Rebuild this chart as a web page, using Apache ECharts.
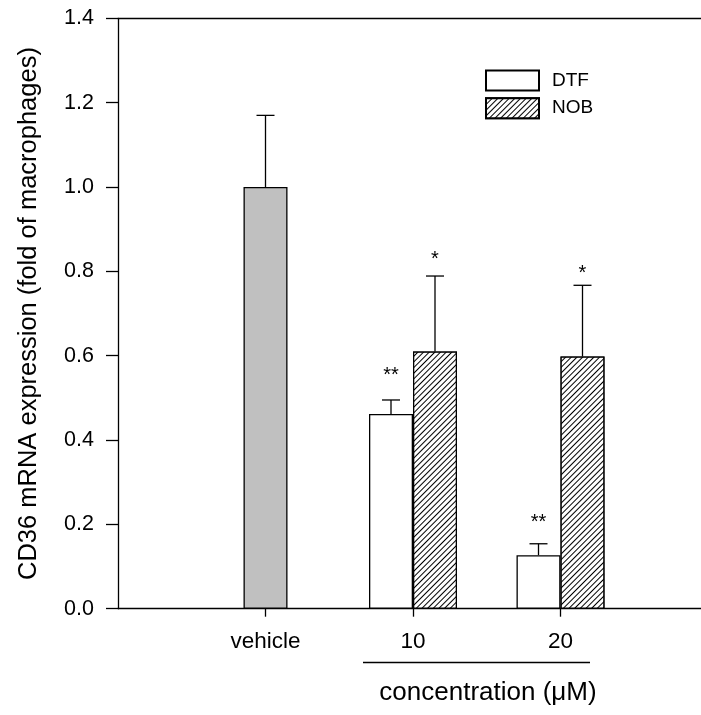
<!DOCTYPE html>
<html>
<head>
<meta charset="utf-8">
<script src="https://cdn.jsdelivr.net/npm/echarts@6/dist/echarts.min.js"></script>
<style>
  html, body { margin: 0; padding: 0; background: #fff; }
  #chart { width: 701px; height: 715px; }
</style>
</head>
<body>
<div id="chart"></div>
<script>
// Groups along the x axis (empty slots pad both ends of the axis)
const categories = ['', 'vehicle', '10', '20', ''];

// Means and upper error (SEM) per group; null where a group has no bar
const vehicleMean = [null, 1.00, null, null, null];
const vehicleErr  = [null, 0.17, null, null, null];
const dtfMean     = [null, null, 0.462, 0.127, null];
const dtfErr      = [null, null, 0.033, 0.027, null];
const nobMean     = [null, null, 0.610, 0.598, null];
const nobErr      = [null, null, 0.179, 0.169, null];

// Significance marks and the height they sit at
const dtfSig   = ['', '', '**', '**', ''];
const dtfSigAt = [null, null, 0.562, 0.214, null];
const nobSig   = ['', '', '*', '*', ''];
const nobSigAt = [null, null, 0.838, 0.804, null];

// Y axis ticks
const yTicks = { min: 0, max: 1.4, step: 0.2 };

const FONT = "'Liberation Sans', Arial, sans-serif";
const BAR_W = 44;
const LINE_W = 1.3;

const chart = echarts.init(document.getElementById('chart'), null, { renderer: 'canvas' });

// Error bar + significance rows: [categoryIndex, mean, err, side(-1 left, 0 centre, 1 right), sigText, sigAt]
const errRows = [];
function collect(mean, err, side, sig, sigAt) {
  mean.forEach((m, i) => {
    if (m == null) return;
    errRows.push([i, m, err[i], side, sig ? sig[i] : '', sigAt ? sigAt[i] : null]);
  });
}
collect(vehicleMean, vehicleErr, 0, null, null);
collect(dtfMean, dtfErr, -1, dtfSig, dtfSigAt);
collect(nobMean, nobErr, 1, nobSig, nobSigAt);

const hatch = {
  symbol: 'rect',
  symbolSize: 1,
  dashArrayX: [1, 0],
  dashArrayY: [1, 2.6],
  rotation: -Math.PI / 4,
  color: '#000',
  backgroundColor: '#fff'
};

const xAxisBase = {
  type: 'category',
  data: categories,
  boundaryGap: false,
  axisLine: { lineStyle: { color: '#000', width: LINE_W } },
  splitLine: { show: false }
};

const option = {
  animation: false,
  backgroundColor: '#fff',
  textStyle: { fontFamily: FONT, color: '#000' },
  // the plot frame runs past the right edge of the canvas
  grid: { left: 118, top: 18.4, width: 590, height: 590.3, containLabel: false, outerBoundsMode: 'none' },
  legend: {
    orient: 'vertical',
    left: 485,
    top: 69.5,
    padding: 0,
    icon: 'rect',
    itemWidth: 53,
    itemHeight: 20,
    itemGap: 5.7,
    data: ['DTF', 'NOB'],
    textStyle: { fontFamily: FONT, fontSize: 19, color: '#000', padding: [0, 0, 0, 8] }
  },
  xAxis: [
    Object.assign({}, xAxisBase, {
      position: 'bottom',
      axisTick: {
        show: true, length: 8, inside: false,
        interval: (i) => i >= 1 && i <= 3,
        lineStyle: { color: '#000', width: LINE_W }
      },
      axisLabel: {
        interval: (i) => i >= 1 && i <= 3,
        margin: 22,
        fontFamily: FONT, fontSize: 22.5, color: '#000'
      }
    }),
    Object.assign({}, xAxisBase, {
      position: 'top',
      axisTick: { show: false },
      axisLabel: { show: false }
    })
  ],
  yAxis: {
    type: 'value',
    min: yTicks.min,
    max: yTicks.max,
    interval: yTicks.step,
    name: 'CD36 mRNA expression (fold of macrophages)',
    nameLocation: 'middle',
    nameGap: 76,
    nameTextStyle: { fontFamily: FONT, fontSize: 25.5, color: '#000' },
    axisLine: { show: true, lineStyle: { color: '#000', width: LINE_W } },
    axisTick: { show: true, length: 12, inside: false, lineStyle: { color: '#000', width: LINE_W } },
    axisLabel: {
      margin: 24,
      fontFamily: FONT, fontSize: 21.5, color: '#000',
      formatter: (v) => v.toFixed(1)
    },
    splitLine: { show: false }
  },
  graphic: [
    {
      type: 'line',
      shape: { x1: 363, y1: 662.5, x2: 590, y2: 662.5 },
      style: { stroke: '#000', lineWidth: LINE_W }
    },
    {
      type: 'text',
      x: 488, y: 693,
      style: {
        text: 'concentration (\u03BCM)',
        font: "26px " + FONT,
        fill: '#000',
        textAlign: 'center',
        textVerticalAlign: 'middle'
      }
    }
  ],
  series: [
    {
      name: 'vehicle',
      type: 'bar',
      xAxisIndex: 1,
      barWidth: BAR_W,
      data: vehicleMean,
      itemStyle: { color: '#c0c0c0', borderColor: '#000', borderWidth: LINE_W }
    },
    {
      name: 'DTF',
      type: 'bar',
      xAxisIndex: 0,
      barWidth: BAR_W,
      barGap: '0%',
      data: dtfMean,
      itemStyle: { color: '#fff', borderColor: '#000', borderWidth: LINE_W }
    },
    {
      name: 'NOB',
      type: 'bar',
      xAxisIndex: 0,
      barWidth: BAR_W,
      barGap: '0%',
      data: nobMean,
      itemStyle: { color: '#fff', borderColor: '#000', borderWidth: LINE_W, decal: hatch }
    },
    {
      name: 'error',
      type: 'custom',
      xAxisIndex: 0,
      z: 5,
      data: errRows,
      renderItem: function (params, api) {
        const row = errRows[params.dataIndex];
        const base = api.coord([row[0], row[1]]);
        const top = api.coord([row[0], row[1] + row[2]]);
        const x = base[0] + row[3] * BAR_W / 2;
        const children = [
          { type: 'line', shape: { x1: x, y1: base[1], x2: x, y2: top[1] },
            style: { stroke: '#000', lineWidth: LINE_W } },
          { type: 'line', shape: { x1: x - 9, y1: top[1], x2: x + 9, y2: top[1] },
            style: { stroke: '#000', lineWidth: LINE_W } }
        ];
        if (row[4]) {
          const s = api.coord([row[0], row[5]]);
          children.push({
            type: 'text',
            x: x, y: s[1] + 4,
            style: { text: row[4], font: '20px ' + FONT, fill: '#000',
                     textAlign: 'center', textVerticalAlign: 'middle' }
          });
        }
        return { type: 'group', children: children };
      }
    }
  ]
};

chart.setOption(option);
</script>
</body>
</html>
